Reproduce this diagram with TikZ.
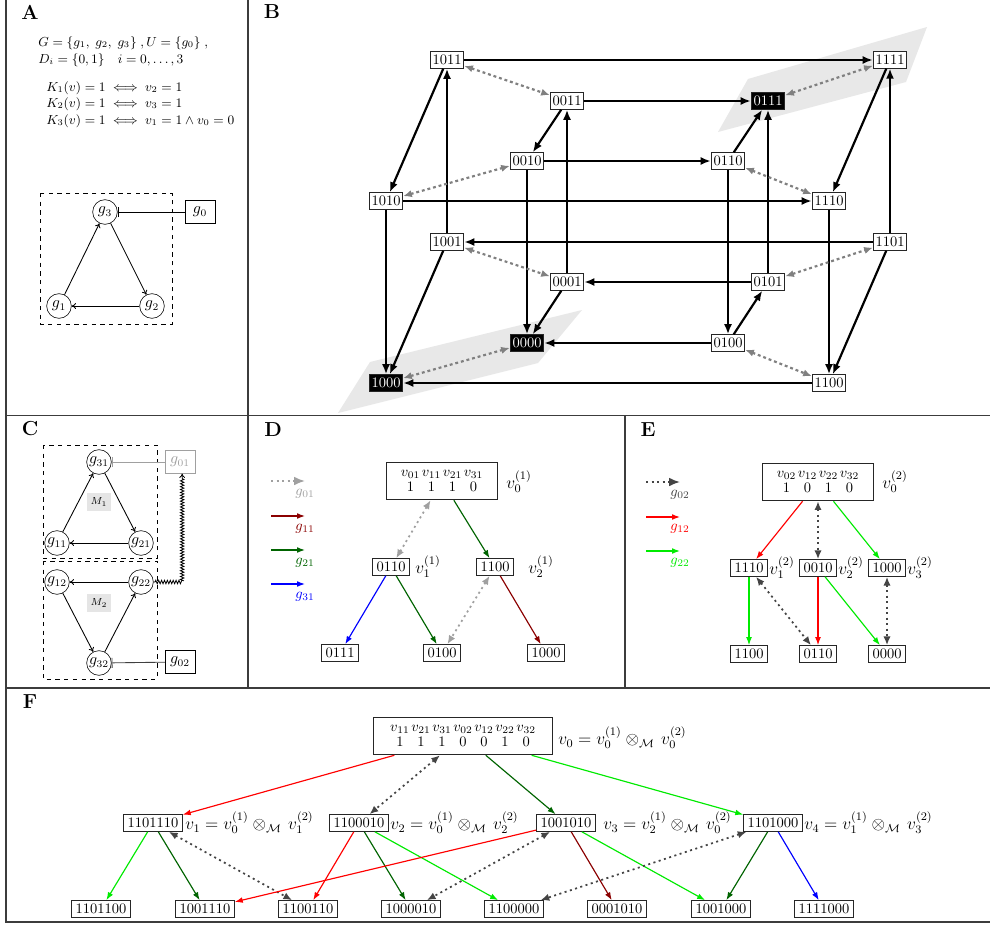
\documentclass[tikz,border=0pt]{standalone}
\usepackage{amsmath,amssymb}
\usetikzlibrary{arrows.meta,decorations.pathmorphing}
\definecolor{dred}{RGB}{139,0,0}
\definecolor{dgreen}{RGB}{0,100,0}
\definecolor{lgreen}{RGB}{0,235,0}
\definecolor{dgray}{RGB}{68,68,68}
\definecolor{mgray}{RGB}{128,128,128}
\definecolor{lgray}{RGB}{160,160,160}
\definecolor{frm}{RGB}{60,60,60}
\definecolor{plane}{RGB}{232,232,232}
\begin{document}
\begin{tikzpicture}[x=0.69pt,y=-0.69pt,
  frame/.style={draw=frm,line width=0.8pt},
  plab/.style={font=\fontsize{14}{16}\selectfont\bfseries,inner sep=0pt},
  atext/.style={font=\fontsize{9.1}{10}\selectfont,anchor=west,inner sep=0pt},
  gn/.style={draw,circle,inner sep=0.5pt,minimum size=17pt,font=\fontsize{10.5}{12}\selectfont},
  gb/.style={draw,rectangle,inner sep=1pt,minimum width=20.5pt,minimum height=15.5pt,font=\fontsize{10.5}{12}\selectfont},
  reg/.style={line width=0.6pt,-{To[length=3pt,width=4pt]}},
  inh/.style={line width=0.6pt,-{Bar[width=7pt]}},
  mlab/.style={fill=black!10,inner sep=1pt,minimum width=17pt,minimum height=12pt,font=\scriptsize},
  bn/.style={draw=black!85,line width=0.5pt,fill=white,inner xsep=1.6pt,inner ysep=2.3pt,font=\fontsize{10}{12}\selectfont},
  bk/.style={bn,fill=black,text=white},
  barr/.style={line width=1.5pt,-{Latex[length=7pt,width=5.5pt]}},
  bdot/.style={mgray,line width=1.5pt,dash pattern=on 2pt off 2pt,{Latex[length=6pt,width=5pt]}-{Latex[length=6pt,width=5pt]}},
  sn/.style={draw=black!85,line width=0.5pt,fill=white,inner xsep=2.8pt,inner ysep=2.4pt,font=\fontsize{10}{12}\selectfont},
  topbox/.style={draw=black!85,line width=0.6pt,fill=white,inner sep=2pt,font=\fontsize{10}{12}\selectfont},
  ea/.style={line width=0.8pt,-{Latex[length=5.5pt,width=4pt]}},
  ed/.style={line width=1.2pt,dash pattern=on 1.4pt off 2.4pt,{Latex[length=6pt,width=5pt]}-{Latex[length=6pt,width=5pt]}},
  lga/.style={line width=0.8pt,-{Latex[length=5.5pt,width=4pt]}},
  lgd/.style={line width=1.2pt,dash pattern=on 1.4pt off 2.4pt,-{Latex[length=7.5pt,width=6pt]}},
  vlab/.style={font=\fontsize{11.5}{13}\selectfont,anchor=west,inner sep=0pt},
  leg/.style={font=\fontsize{10}{12}\selectfont,inner sep=0pt}
]
\useasboundingbox (0,0) rectangle (990,924);
\fill[white] (0,0) rectangle (990,924);

% ---------- frames ----------
\draw[frame] (6,0) -- (6,922) -- (990,922);
\draw[frame] (248,0) -- (248,688);
\draw[frame] (6,415.5) -- (990,415.5);
\draw[frame] (625,415.5) -- (625,688);
\draw[frame] (6,688) -- (990,688);

% ---------- panel labels ----------
\node[plab] (LA) at (30,12) {A};
\node[plab] (LB) at (272,12) {B};
\node[plab] (LC) at (30,429) {C};
\node[plab] (LD) at (273,430) {D};
\node[plab] (LE) at (648,430) {E};
\node[plab] (LF) at (30,702) {F};

% ---------- panel A ----------
\node[atext] (ta1) at (38,43) {$G=\{g_1,\;g_2,\;g_3\}\;,U=\{g_0\}\;,$};
\node[atext] (ta2) at (38,60) {$D_i=\{0,1\}\quad i=0,\ldots,3$};
\node[atext] (ta3) at (46,88) {$K_1(v)=1\iff v_2=1$};
\node[atext] (ta4) at (46,104) {$K_2(v)=1\iff v_3=1$};
\node[atext] (ta5) at (46,121) {$K_3(v)=1\iff v_1=1\land v_0=0$};
\draw[dashed,line width=0.6pt] (40,193) rectangle (172,324);
\node[gn] (g3) at (105,212) {$g_3$};
\node[gn] (g1) at (59,306) {$g_1$};
\node[gn] (g2) at (152,306) {$g_2$};
\node[gb] (g0) at (200,212) {$g_0$};
\draw[reg] (g1) -- (g3);
\draw[reg] (g3) -- (g2);
\draw[reg] (g2) -- (g1);
\draw[inh] (g0) -- (g3);

% ---------- panel B ----------
\fill[plane] (718,132) -- (748,79) -- (927,27) -- (906,82) -- cycle;
\fill[plane] (338,413) -- (370,362) -- (582,310) -- (538,363) -- cycle;
\node[bn] (b1011) at (447,60) {1011};
\node[bn] (b0011) at (567,101) {0011};
\node[bk] (b0111) at (768,101) {0111};
\node[bn] (b1111) at (890,60) {1111};
\node[bn] (b0010) at (527,161) {0010};
\node[bn] (b0110) at (728,161) {0110};
\node[bn] (b1010) at (386,201) {1010};
\node[bn] (b1110) at (829,201) {1110};
\node[bn] (b1001) at (447,242) {1001};
\node[bn] (b1101) at (890,242) {1101};
\node[bn] (b0001) at (567,282) {0001};
\node[bn] (b0101) at (768,282) {0101};
\node[bk] (b0000) at (527,343) {0000};
\node[bn] (b0100) at (728,343) {0100};
\node[bk] (b1000) at (386,383) {1000};
\node[bn] (b1100) at (829,383) {1100};
% horizontal
\draw[barr] (b1011) -- (b1111);
\draw[barr] (b0011) -- (b0111);
\draw[barr] (b0010) -- (b0110);
\draw[barr] (b1010) -- (b1110);
\draw[barr] (b1101) -- (b1001);
\draw[barr] (b0101) -- (b0001);
\draw[barr] (b0100) -- (b0000);
\draw[barr] (b1100) -- (b1000);
% vertical
\draw[barr] (b1001) -- (b1011);
\draw[barr] (b0001) -- (b0011);
\draw[barr] (b0101) -- (b0111);
\draw[barr] (b1101) -- (b1111);
\draw[barr] (b1010) -- (b1000);
\draw[barr] (b0010) -- (b0000);
\draw[barr] (b0110) -- (b0100);
\draw[barr] (b1110) -- (b1100);
% depth
\draw[barr] (b1011) -- (b1010);
\draw[barr] (b0011) -- (b0010);
\draw[barr] (b0110) -- (b0111);
\draw[barr] (b1111) -- (b1110);
\draw[barr] (b1001) -- (b1000);
\draw[barr] (b0001) -- (b0000);
\draw[barr] (b0100) -- (b0101);
\draw[barr] (b1101) -- (b1100);
% g0 toggles
\draw[bdot] (b1011) -- (b0011);
\draw[bdot] (b1010) -- (b0010);
\draw[bdot] (b0111) -- (b1111);
\draw[bdot] (b0110) -- (b1110);
\draw[bdot] (b1001) -- (b0001);
\draw[bdot] (b1000) -- (b0000);
\draw[bdot] (b0101) -- (b1101);
\draw[bdot] (b0100) -- (b1100);

% ---------- panel C ----------
\draw[dashed,line width=0.6pt] (43,445) rectangle (157,558);
\draw[dashed,line width=0.6pt] (43,561) rectangle (157,679);
\node[gn] (g31) at (99,462) {$g_{31}$};
\node[gn] (g11) at (57,543) {$g_{11}$};
\node[gn] (g21) at (141,543) {$g_{21}$};
\node[gn] (g12) at (57,582) {$g_{12}$};
\node[gn] (g22) at (141,582) {$g_{22}$};
\node[gn] (g32) at (99,663) {$g_{32}$};
\node[gb,draw=lgray,text=lgray] (g01) at (180,462) {$g_{01}$};
\node[gb] (g02) at (180,662) {$g_{02}$};
\node[mlab] (M1) at (99,502) {$M_1$};
\node[mlab] (M2) at (99,603) {$M_2$};
\draw[reg] (g11) -- (g31);
\draw[reg] (g31) -- (g21);
\draw[reg] (g21) -- (g11);
\draw[reg] (g12) -- (g32);
\draw[reg] (g32) -- (g22);
\draw[reg] (g22) -- (g12);
\draw[inh,lgray] (g01) -- (g31);
\draw[inh,black!75] (g02) -- (g32);
\draw[line width=0.55pt,decorate,decoration={zigzag,segment length=2pt,amplitude=1.2pt,pre length=1pt,post length=3pt},-{To[length=3pt,width=4pt]}] (g22.east) -| ([xshift=1.5pt]g01.south);

% ---------- panel D ----------
\coordinate (d1a) at (271,481); \coordinate (d1b) at (305,481);
\coordinate (d2a) at (271,516); \coordinate (d2b) at (305,516);
\coordinate (d3a) at (271,550); \coordinate (d3b) at (305,550);
\coordinate (d4a) at (271,584); \coordinate (d4b) at (305,584);
\draw[lgd,lgray] (d1a) -- (d1b);
\draw[lga,dred] (d2a) -- (d2b);
\draw[lga,dgreen] (d3a) -- (d3b);
\draw[lga,blue] (d4a) -- (d4b);
\node[leg,text=lgray] (dl1) at (305,494) {$g_{01}$};
\node[leg,text=dred] (dl2) at (305,529) {$g_{11}$};
\node[leg,text=dgreen] (dl3) at (305,563) {$g_{21}$};
\node[leg,text=blue] (dl4) at (305,597) {$g_{31}$};

\node[topbox,minimum width=77pt,minimum height=26pt] (dtop) at (442,481)
  {$\renewcommand{\arraystretch}{0.84}\setlength{\arraycolsep}{0.6pt}\begin{array}{cccc}v_{01}&v_{11}&v_{21}&v_{31}\\1&1&1&0\end{array}$};
\node[vlab] (dv0) at (506,482) {$v_0^{(1)}$};
\node[sn] (d0110) at (391,567) {0110};
\node[vlab] (dv1) at (415,567) {$v_1^{(1)}$};
\node[sn] (d1100) at (495,567) {1100};
\node[vlab] (dv2) at (528,567) {$v_2^{(1)}$};
\node[sn] (d0111) at (340,653) {0111};
\node[sn] (d0100) at (442,653) {0100};
\node[sn] (d1000) at (546,653) {1000};
\draw[ed,lgray] (dtop) -- (d0110);
\draw[ea,dgreen] (dtop) -- (d1100);
\draw[ea,blue] (d0110) -- (d0111);
\draw[ea,dgreen] (d0110) -- (d0100);
\draw[ed,lgray] (d1100) -- (d0100);
\draw[ea,dred] (d1100) -- (d1000);

% ---------- panel E ----------
\coordinate (e1a) at (646,482); \coordinate (e1b) at (680,482);
\coordinate (e2a) at (646,517); \coordinate (e2b) at (680,517);
\coordinate (e3a) at (646,551); \coordinate (e3b) at (680,551);
\draw[lgd,dgray] (e1a) -- (e1b);
\draw[lga,red] (e2a) -- (e2b);
\draw[lga,lgreen] (e3a) -- (e3b);
\node[leg,text=dgray] (el1) at (680,495) {$g_{02}$};
\node[leg,text=red] (el2) at (680,529) {$g_{12}$};
\node[leg,text=lgreen] (el3) at (680,563) {$g_{22}$};

\node[topbox,minimum width=77pt,minimum height=26pt] (etop) at (818,482)
  {$\renewcommand{\arraystretch}{0.84}\setlength{\arraycolsep}{0.6pt}\begin{array}{cccc}v_{02}&v_{12}&v_{22}&v_{32}\\1&0&1&0\end{array}$};
\node[vlab] (ev0) at (882,482) {$v_0^{(2)}$};
\node[sn] (e1110) at (749,568) {1110};
\node[vlab] (ev1) at (769,568) {$v_1^{(2)}$};
\node[sn] (e0010) at (818,568) {0010};
\node[vlab] (ev2) at (838,568) {$v_2^{(2)}$};
\node[sn] (e1000) at (887,568) {1000};
\node[vlab] (ev3) at (907,568) {$v_3^{(2)}$};
\node[sn] (e1100) at (749,654) {1100};
\node[sn] (e0110) at (818,654) {0110};
\node[sn] (e0000) at (887,654) {0000};
\draw[ea,red] (etop) -- (e1110);
\draw[ed,dgray] (etop) -- (e0010);
\draw[ea,lgreen] (etop) -- (e1000);
\draw[ea,lgreen] (e1110) -- (e1100);
\draw[ed,dgray] (e1110) -- (e0110);
\draw[ea,red] (e0010) -- (e0110);
\draw[ea,lgreen] (e0010) -- (e0000);
\draw[ed,dgray] (e1000) -- (e0000);

% ---------- panel F ----------
\node[topbox,minimum width=123pt,minimum height=26pt] (ftop) at (463,736)
  {$\renewcommand{\arraystretch}{0.84}\setlength{\arraycolsep}{0.6pt}\begin{array}{ccccccc}v_{11}&v_{21}&v_{31}&v_{02}&v_{12}&v_{22}&v_{32}\\1&1&1&0&0&1&0\end{array}$};
\node[vlab] (fv0) at (558,738) {$v_0=v_0^{(1)}\otimes_{\mathcal{M}}\,v_0^{(2)}$};
\node[sn] (f1) at (153,823) {1101110};
\node[vlab] (fv1) at (185,823) {$v_1=v_0^{(1)}\otimes_{\mathcal{M}}\,v_1^{(2)}$};
\node[sn] (f2) at (359,823) {1100010};
\node[vlab] (fv2) at (390,823) {$v_2=v_0^{(1)}\otimes_{\mathcal{M}}\,v_2^{(2)}$};
\node[sn] (f3) at (566,823) {1001010};
\node[vlab] (fv3) at (603,823) {$v_3=v_2^{(1)}\otimes_{\mathcal{M}}\,v_0^{(2)}$};
\node[sn] (f4) at (773,823) {1101000};
\node[vlab] (fv4) at (804,823) {$v_4=v_1^{(1)}\otimes_{\mathcal{M}}\,v_3^{(2)}$};
\node[sn] (h1) at (101,909) {1101100};
\node[sn] (h2) at (205,909) {1001110};
\node[sn] (h3) at (308,909) {1100110};
\node[sn] (h4) at (411,909) {1000010};
\node[sn] (h5) at (514,909) {1100000};
\node[sn] (h6) at (617,909) {0001010};
\node[sn] (h7) at (721,909) {1001000};
\node[sn] (h8) at (824,909) {1111000};
\draw[ea,red] (ftop) -- (f1);
\draw[ed,dgray] (ftop) -- (f2);
\draw[ea,dgreen] (ftop) -- (f3);
\draw[ea,lgreen] (ftop) -- (f4);
\draw[ea,lgreen] (f1) -- (h1);
\draw[ea,dgreen] (f1) -- (h2);
\draw[ed,dgray] (f1) -- (h3);
\draw[ea,red] (f2) -- (h3);
\draw[ea,dgreen] (f2) -- (h4);
\draw[ea,lgreen] (f2) -- (h5);
\draw[ea,red] (f3) -- (h2);
\draw[ed,dgray] (f3) -- (h4);
\draw[ea,dred] (f3) -- (h6);
\draw[ea,lgreen] (f3) -- (h7);
\draw[ed,dgray] (f4) -- (h5);
\draw[ea,dgreen] (f4) -- (h7);
\draw[ea,blue] (f4) -- (h8);
\end{tikzpicture}
\end{document}
